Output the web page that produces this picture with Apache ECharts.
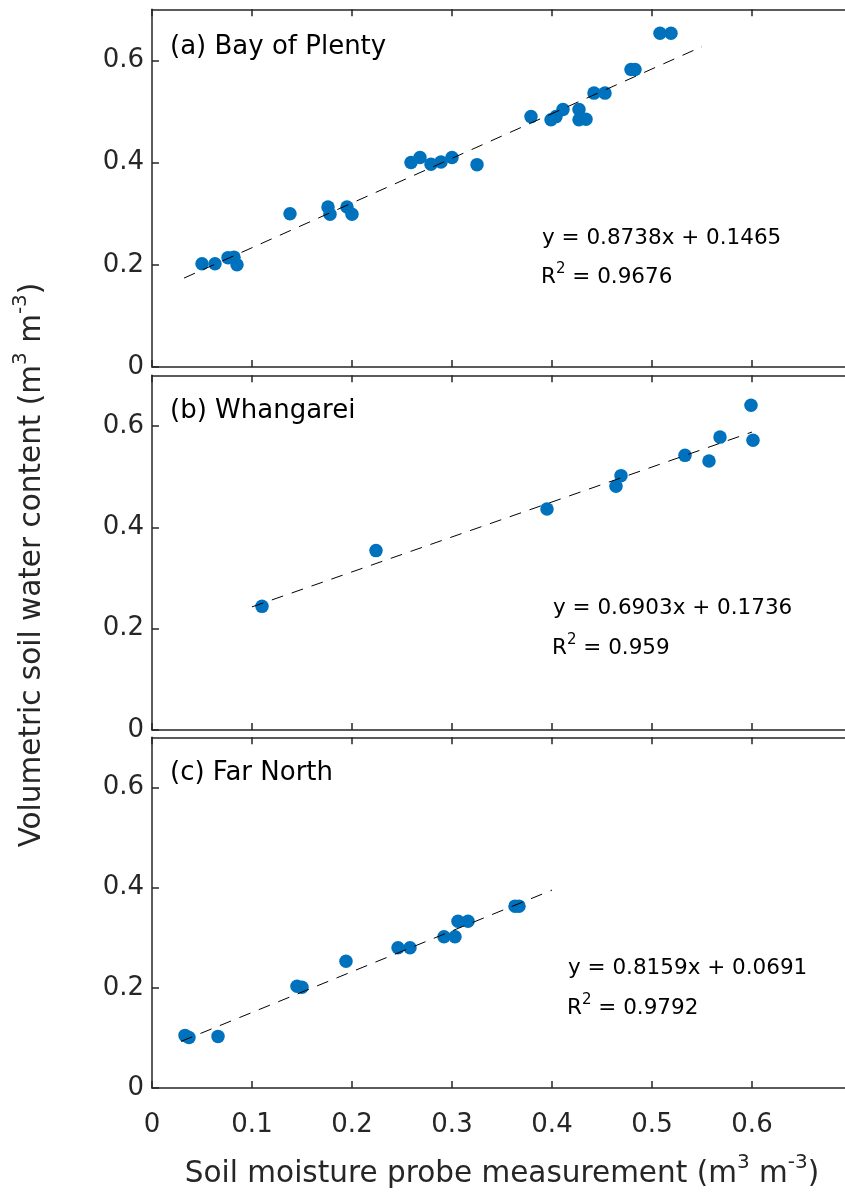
<!DOCTYPE html>
<html>
<head>
<meta charset="utf-8">
<script src="https://cdn.jsdelivr.net/npm/echarts@6/dist/echarts.min.js"></script>
<style>
html,body{margin:0;padding:0;background:#fff;overflow:hidden;width:845px;height:1197px;}
#chart{width:870px;height:1197px;}
</style>
</head>
<body>
<div id="chart"></div>
<script>
// ---------- DATA ----------
const panelNames = ['(a) Bay of Plenty', '(b) Whangarei', '(c) Far North'];
const equations = ['y = 0.8738x + 0.1465', 'y = 0.6903x + 0.1736', 'y = 0.8159x + 0.0691'];
const r2Values = ['0.9676', '0.959', '0.9792'];

const probeA = [0.050, 0.063, 0.076, 0.082, 0.085, 0.138, 0.176, 0.178, 0.195, 0.200,
                0.259, 0.268, 0.279, 0.289, 0.300, 0.325, 0.379, 0.399, 0.404, 0.411,
                0.427, 0.427, 0.434, 0.442, 0.453, 0.479, 0.483, 0.508, 0.519];
const vswcA  = [0.202, 0.202, 0.214, 0.215, 0.200, 0.300, 0.313, 0.299, 0.313, 0.299,
                0.400, 0.410, 0.397, 0.401, 0.410, 0.396, 0.490, 0.484, 0.490, 0.504,
                0.504, 0.484, 0.485, 0.536, 0.536, 0.582, 0.582, 0.653, 0.653];

const probeB = [0.110, 0.224, 0.395, 0.464, 0.469, 0.533, 0.557, 0.568, 0.599, 0.601];
const vswcB  = [0.244, 0.354, 0.436, 0.481, 0.502, 0.542, 0.531, 0.578, 0.641, 0.572];

const probeC = [0.033, 0.037, 0.066, 0.145, 0.150, 0.194, 0.246, 0.258, 0.292, 0.303,
                0.306, 0.316, 0.363, 0.367];
const vswcC  = [0.105, 0.101, 0.103, 0.203, 0.201, 0.253, 0.280, 0.280, 0.302, 0.302,
                0.333, 0.333, 0.363, 0.363];

// fitted trend lines (end points)
const trendA = [[0.032, 0.174], [0.550, 0.627]];
const trendB = [[0.100, 0.243], [0.600, 0.588]];
const trendC = [[0.029, 0.093], [0.400, 0.395]];

const xTicks = [0, 0.1, 0.2, 0.3, 0.4, 0.5, 0.6];
const yTicks = [0, 0.2, 0.4, 0.6];

const xTitle = 'Soil moisture probe measurement (m{sup|3} m{sup|-3})';
const yTitle = 'Volumetric soil water content (m{sup|3} m{sup|-3})';

// ---------- STYLE / LAYOUT ----------
const FONT = 'DejaVu Sans';
const AX = '#262626';
const BLUE = '#0072BD';
const grids = [
  {left: 152, top: 9.3, width: 700, height: 357.7},
  {left: 152, top: 375.3, width: 700, height: 354.7},
  {left: 152, top: 737.3, width: 700, height: 354.4}
];
const labelPos = [47, 411.5, 773.5];
const eqPos = [[542, 238, 277.5], [553, 608.3, 648.7], [568, 968.3, 1008.3]];

const pairs = (xs, ys) => xs.map((x, i) => [x, ys[i]]);
const scatterData = [pairs(probeA, vswcA), pairs(probeB, vswcB), pairs(probeC, vswcC)];
const trendData = [trendA, trendB, trendC];

const fmt = v => (Math.abs(v) < 1e-9 ? '0' : (+v).toFixed(1));

const xAxes = [], yAxes = [], series = [], graphic = [];
for (let i = 0; i < 3; i++) {
  const isLast = i === 2;
  const base = {
    type: 'value', gridIndex: i, min: 0, max: 0.7, interval: 0.1,
    axisLine: {show: true, onZero: false, lineStyle: {color: AX, width: 1.5}},
    axisTick: {show: true, inside: true, length: 7, lineStyle: {color: AX, width: 1.5}},
    splitLine: {show: false}
  };
  xAxes.push(Object.assign({}, base, {
    position: 'bottom',
    axisLabel: {
      show: isLast, margin: 24, color: AX, fontFamily: FONT, fontSize: 26,
      showMaxLabel: false,
      formatter: v => (xTicks.some(t => Math.abs(t - v) < 1e-6) ? fmt(v) : '')
    },
    name: isLast ? xTitle : '',
    nameLocation: 'middle',
    nameGap: 65,
    nameTextStyle: {
      color: AX, fontFamily: FONT, fontSize: 29.5, lineHeight: 43,
      rich: {sup: {fontFamily: FONT, fontSize: 20, lineHeight: 20, verticalAlign: 'top', color: AX}}
    }
  }));
  xAxes.push(Object.assign({}, base, {
    position: 'top',
    axisLabel: {show: false}
  }));
  yAxes.push({
    type: 'value', gridIndex: i, min: 0, max: 0.7, interval: 0.2,
    axisLine: {show: true, onZero: false, lineStyle: {color: AX, width: 1.5}},
    axisTick: {show: true, inside: true, length: 7, lineStyle: {color: AX, width: 1.5}},
    splitLine: {show: false},
    axisLabel: {
      margin: 8, color: AX, fontFamily: FONT, fontSize: 26, showMaxLabel: false,
      formatter: v => (yTicks.some(t => Math.abs(t - v) < 1e-6) ? fmt(v) : '')
    }
  });
  series.push({
    type: 'scatter', xAxisIndex: 2 * i, yAxisIndex: i,
    data: scatterData[i], symbol: 'circle', symbolSize: 13.5,
    itemStyle: {color: BLUE, opacity: 1}, z: 2, silent: true
  });
  series.push({
    type: 'line', xAxisIndex: 2 * i, yAxisIndex: i,
    data: trendData[i], symbol: 'none',
    lineStyle: {color: '#000', width: 1, type: [12, 9]}, z: 3, silent: true
  });

  graphic.push({
    type: 'text', x: 170, y: labelPos[i], silent: true,
    style: {text: panelNames[i], fill: '#000', fontFamily: FONT, fontSize: 26,
            align: 'left', verticalAlign: 'middle'}
  });
  graphic.push({
    type: 'text', x: eqPos[i][0], y: eqPos[i][1], silent: true,
    style: {text: equations[i], fill: '#000', fontFamily: FONT, fontSize: 21.5,
            align: 'left', verticalAlign: 'middle'}
  });
  graphic.push({
    type: 'text', x: eqPos[i][0] - 1, y: eqPos[i][2], silent: true,
    style: {text: 'R{sup|2} = ' + r2Values[i], fill: '#000', fontFamily: FONT, fontSize: 21.5,
            lineHeight: 32, align: 'left', verticalAlign: 'middle',
            rich: {sup: {fontFamily: FONT, fontSize: 15, lineHeight: 14, verticalAlign: 'top', fill: '#000'}}}
  });
}
graphic.push({
  type: 'text', x: 32.5, y: 565, rotation: Math.PI / 2, silent: true,
  style: {text: yTitle, fill: AX, fontFamily: FONT, fontSize: 29.5, lineHeight: 43,
          align: 'center', verticalAlign: 'middle',
          rich: {sup: {fontFamily: FONT, fontSize: 20, lineHeight: 20, verticalAlign: 'top', fill: AX}}}
});

const chart = echarts.init(document.getElementById('chart'), null, {renderer: 'canvas'});
chart.setOption({
  animation: false,
  backgroundColor: '#fff',
  grid: grids,
  xAxis: xAxes,
  yAxis: yAxes,
  series: series,
  graphic: graphic
});
</script>
</body>
</html>
